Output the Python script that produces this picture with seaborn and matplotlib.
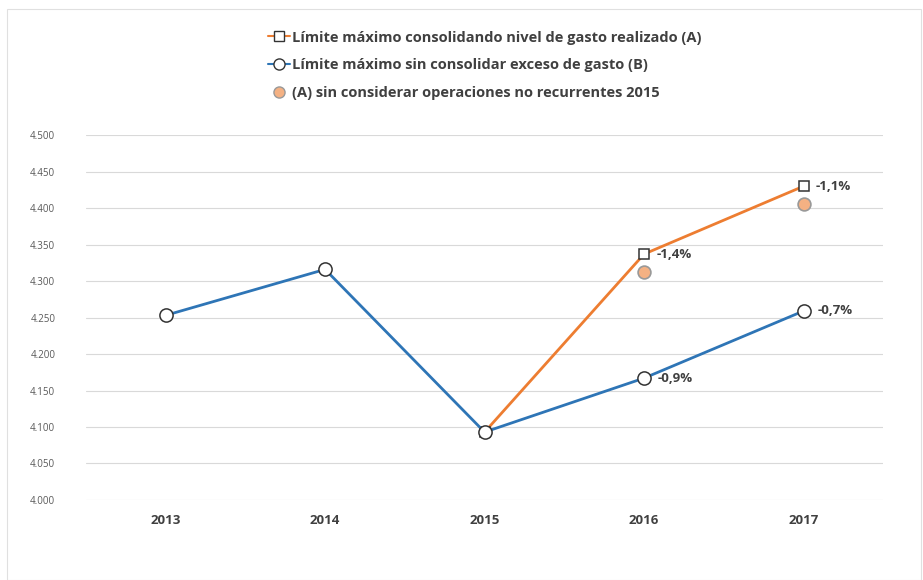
import matplotlib.pyplot as plt
import seaborn as sns
import pandas as pd
from matplotlib.lines import Line2D

sns.set_theme(style="white")
plt.rcParams['font.family'] = ['Open Sans', 'DejaVu Sans']

anios = ['2013', '2014', '2015', '2016', '2017']
serie_b = [4.253, 4.316, 4.093, 4.167, 4.259]
anios_a = ['2015', '2016', '2017']
serie_a = [4.093, 4.337, 4.430]
anios_sin_op = ['2016', '2017']
serie_sin_op = [4.312, 4.405]
etiquetas_a = ['-1,4%', '-1,1%']
etiquetas_b = ['-0,9%', '-0,7%']

naranja = '#ED7D31'
azul = '#2E75B6'
salmon = '#F4B183'
gris_texto = '#404040'

df_b = pd.DataFrame({'x': [anios.index(a) for a in anios], 'y': serie_b})
df_a = pd.DataFrame({'x': [anios.index(a) for a in anios_a], 'y': serie_a})
df_s = pd.DataFrame({'x': [anios.index(a) for a in anios_sin_op], 'y': serie_sin_op})

fig = plt.figure(figsize=(9.23, 5.8), dpi=100)
ax = fig.add_axes([0.093, 0.138, 0.864, 0.629])

sns.lineplot(data=df_a, x='x', y='y', ax=ax, color=naranja, linewidth=2, marker='s',
             markersize=7.5, markerfacecolor='white', markeredgecolor='#333333',
             markeredgewidth=1.1, zorder=3)
sns.lineplot(data=df_b, x='x', y='y', ax=ax, color=azul, linewidth=2, marker='o',
             markersize=9.5, markerfacecolor='white', markeredgecolor='#333333',
             markeredgewidth=1.1, zorder=4)
sns.scatterplot(data=df_s, x='x', y='y', ax=ax, color=salmon, s=85,
                edgecolor='#999999', linewidth=1.2, zorder=5)

# etiquetas de variación
for a, v, t in zip(anios_sin_op, serie_a[1:], etiquetas_a):
    ax.annotate(t, (anios.index(a), v), xytext=(9, 0), textcoords='offset points',
                va='center', ha='left', fontsize=9.5, fontweight='bold', color=gris_texto)
for a, v, t in zip(anios[3:], serie_b[3:], etiquetas_b):
    ax.annotate(t, (anios.index(a), v), xytext=(10, 0), textcoords='offset points',
                va='center', ha='left', fontsize=9.5, fontweight='bold', color=gris_texto)

ax.set_xlim(-0.5, 4.5)
ax.set_ylim(4.0, 4.5)
ax.set_xticks(range(len(anios)))
ax.set_xticklabels(anios, fontsize=9.5, fontweight='bold', color=gris_texto)
yt = [4.0 + 0.05 * i for i in range(11)]
ax.set_yticks(yt)
ax.set_yticklabels([f'{v:.3f}' for v in yt], fontsize=7, color='#595959')
ax.yaxis.grid(True, color='#d9d9d9', linewidth=0.8)
ax.tick_params(axis='x', length=0, pad=10)
ax.tick_params(axis='y', length=0, pad=22)
ax.set_xlabel('')
ax.set_ylabel('')
for s in ax.spines.values():
    s.set_visible(False)

handles = [
    Line2D([], [], color=naranja, linewidth=1.5, marker='s', markersize=7,
           markerfacecolor='white', markeredgecolor='#333333'),
    Line2D([], [], color=azul, linewidth=1.5, marker='o', markersize=8,
           markerfacecolor='white', markeredgecolor='#333333'),
    Line2D([], [], linestyle='none', marker='o', markersize=8,
           markerfacecolor=salmon, markeredgecolor='#999999'),
]
labels = [
    'Límite máximo consolidando nivel de gasto realizado (A)',
    'Límite máximo sin consolidar exceso de gasto (B)',
    '(A) sin considerar operaciones no recurrentes 2015',
]
leg = fig.legend(handles, labels, loc='upper left', bbox_to_anchor=(0.276, 0.97),
                 frameon=False, handlelength=1.5, handletextpad=0.15, labelspacing=0.95,
                 prop={'size': 10.5, 'weight': 'bold'})
for t in leg.get_texts():
    t.set_color(gris_texto)

fig.patches.append(plt.Rectangle((0.008, 0.0), 0.99, 0.985, transform=fig.transFigure,
                                 fill=False, edgecolor='#e0e0e0', linewidth=0.8))

plt.savefig('out.png', dpi=100)
plt.close()
